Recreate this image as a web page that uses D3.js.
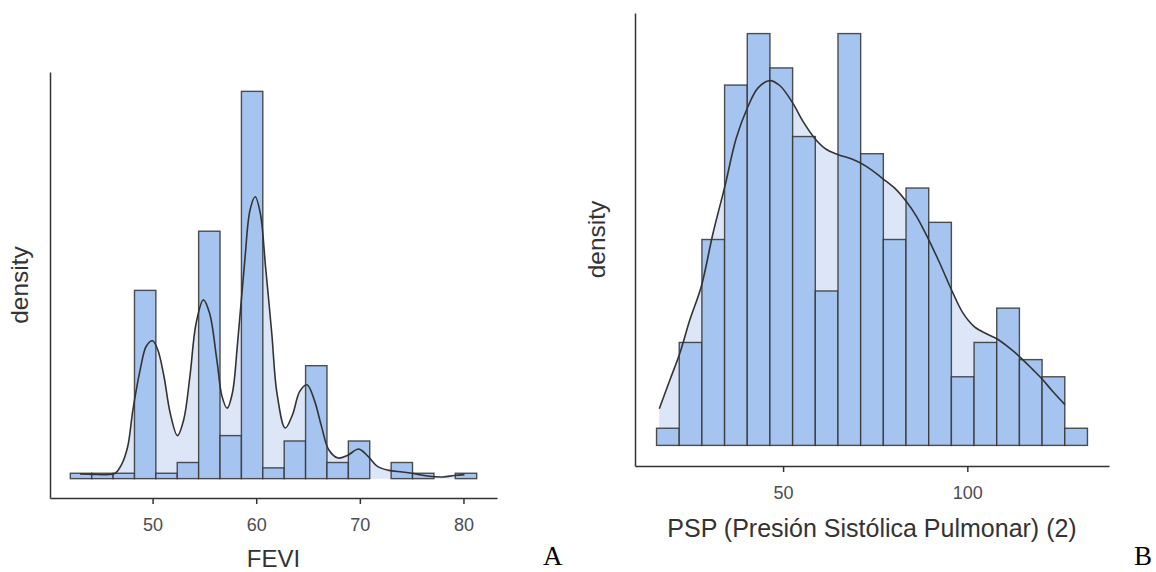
<!DOCTYPE html>
<html>
<head>
<meta charset="utf-8">
<script src="https://cdn.jsdelivr.net/npm/d3@7"></script>
<style>
  body { margin: 0; background: #fff; }
  svg { display: block; font-family: "Liberation Sans", Arial, sans-serif; }
  .axis path, .axis line { stroke: #333; stroke-width: 1.5; }
  .axis text { fill: #4d4d4d; font-size: 18px; }
  .title { fill: #333; font-size: 24.5px; }
  .bars rect { fill: #a6c4f0; stroke: #333; stroke-opacity: 0.85; stroke-width: 1.4; }
  .dens-area { fill: #dce6f7; }
  .dens-line { fill: none; stroke: #333; stroke-width: 1.6; }
  .panel-label { font-family: "Liberation Serif", "Times New Roman", serif; font-size: 27px; fill: #000; }
</style>
</head>
<body>
<script>
// ---- data: FEVI (panel A) ----
var fevi_binStart = 42.06, fevi_binWidth = 2.064;
var fevi_counts = [1, 1, 1, 35, 1, 3, 46, 8, 72, 2, 7, 21, 3, 7, 0, 3, 1, 0, 1];
var fevi_densX = [43.0, 44.3, 45.6, 46.4, 47.0, 47.6, 48.1, 48.8, 49.4, 50.0, 50.5, 51.1, 51.7, 52.4, 53.0, 53.6,
  54.2, 54.9, 55.5, 56.2, 56.7, 57.2, 57.7, 58.2, 58.9, 59.4, 59.9, 60.4, 60.9, 61.5, 62.0, 62.8, 63.5, 64.2,
  64.9, 65.6, 66.3, 67.0, 67.9, 68.8, 69.9, 70.8, 71.7, 72.8, 74.1, 75.4, 76.7, 78.0, 79.1, 80.1];
var fevi_densY = [0.0020, 0.0018, 0.0017, 0.0023, 0.0059, 0.0136, 0.0291, 0.0460, 0.0561, 0.0583, 0.0545, 0.0432,
  0.0277, 0.0182, 0.0249, 0.0432, 0.0657, 0.0756, 0.0699, 0.0502, 0.0348, 0.0298, 0.0362, 0.0573, 0.0924, 0.1135,
  0.1192, 0.1121, 0.0896, 0.0615, 0.0362, 0.0214, 0.0270, 0.0369, 0.0397, 0.0333, 0.0221, 0.0122, 0.0087, 0.0098,
  0.0125, 0.0094, 0.0052, 0.0035, 0.0028, 0.0020, 0.0010, 0.0007, 0.0013, 0.0017];
var fevi_ticks = [50, 60, 70, 80];

// ---- data: PSP (panel B) ----
var psp_binStart = 15.66, psp_binWidth = 6.155;
var psp_counts = [1, 6, 12, 21, 24, 22, 18, 9, 24, 17, 12, 15, 13, 4, 6, 8, 5, 4, 1];
var psp_densX = [16.4, 19.3, 22.0, 24.7, 27.8, 31.0, 34.2, 37.3, 40.3, 43.2, 46.4, 49.1, 52.6, 55.4, 58.9, 61.8,
  65.0, 69.0, 72.6, 77.2, 80.7, 83.4, 86.2, 89.5, 92.5, 95.7, 98.8, 101.8, 105.2, 108.0, 111.5, 114.1, 117.8,
  120.3, 123.2, 126.5];
var psp_densY = [0.00156, 0.00280, 0.00394, 0.00536, 0.00678, 0.00906, 0.01105, 0.01311, 0.01439, 0.01525,
  0.01556, 0.01535, 0.01461, 0.01382, 0.01304, 0.01262, 0.01240, 0.01219, 0.01190, 0.01136, 0.01091, 0.01041,
  0.00977, 0.00878, 0.00778, 0.00664, 0.00565, 0.00508, 0.00476, 0.00455, 0.00415, 0.00380, 0.00323, 0.00283,
  0.00230, 0.00174];
var psp_ticks = [50, 100];

var svg = d3.select("body").append("svg")
    .attr("width", 1156)
    .attr("height", 572);

var drawPanel = function(cfg) {
  var n = d3.sum(cfg.counts);
  var bins = cfg.counts.map(function(c, i) {
    return {x0: cfg.binStart + i * cfg.binWidth, x1: cfg.binStart + (i + 1) * cfg.binWidth,
            d: c / (n * cfg.binWidth)};
  });
  var dens = cfg.densX.map(function(x, i) { return {x: x, y: cfg.densY[i]}; });

  // ggplot-style 5% expansion
  var lo = bins[0].x0, hi = bins[bins.length - 1].x1, span = hi - lo;
  var xScale = d3.scaleLinear()
      .domain([lo - 0.05 * span, hi + 0.05 * span])
      .range([cfg.left, cfg.right]);
  var ymax = Math.max(d3.max(bins, function(b) { return b.d; }), d3.max(cfg.densY));
  var yScale = d3.scaleLinear()
      .domain([-0.05 * ymax, 1.05 * ymax])
      .range([cfg.bottom, cfg.top]);

  var g = svg.append("g");

  // density fill behind bars
  var area = d3.area()
      .curve(d3.curveCatmullRom)
      .x(function(d) { return xScale(d.x); })
      .y0(yScale(0))
      .y1(function(d) { return yScale(d.y); });
  g.append("path")
      .datum(dens)
      .attr("class", "dens-area")
      .attr("d", area);

  // bars (empty bins skipped)
  g.append("g").attr("class", "bars")
    .selectAll("rect")
    .data(bins.filter(function(b) { return b.d > 0; }))
    .enter()
    .append("rect")
      .attr("x", function(b) { return xScale(b.x0); })
      .attr("width", function(b) { return xScale(b.x1) - xScale(b.x0); })
      .attr("y", function(b) { return yScale(b.d); })
      .attr("height", function(b) { return yScale(0) - yScale(b.d); });

  // density line on top
  var line = d3.line()
      .curve(d3.curveCatmullRom)
      .x(function(d) { return xScale(d.x); })
      .y(function(d) { return yScale(d.y); });
  g.append("path")
      .datum(dens)
      .attr("class", "dens-line")
      .attr("d", line);

  // axes
  g.append("g")
      .attr("class", "axis")
      .attr("transform", "translate(0," + cfg.bottom + ")")
      .call(d3.axisBottom(xScale).tickValues(cfg.ticks).tickSize(6).tickSizeOuter(0).tickPadding(14));
  g.append("g")
      .attr("class", "axis")
      .attr("transform", "translate(" + cfg.left + ",0)")
      .call(d3.axisLeft(yScale).tickValues([]).tickSizeOuter(0));

  // titles
  g.append("text")
      .attr("class", "title")
      .attr("text-anchor", "middle")
      .attr("x", (cfg.left + cfg.right) / 2)
      .attr("y", cfg.bottom + cfg.xTitleOffset)
      .style("font-size", cfg.xTitleSize)
      .text(cfg.xTitle);
  g.append("text")
      .attr("class", "title")
      .attr("text-anchor", "middle")
      .attr("transform", "translate(" + (cfg.left - cfg.yTitleOffset) + "," + (cfg.top + cfg.bottom) / 2 + ") rotate(-90)")
      .text("density");
};

drawPanel({left: 50, right: 497, top: 72, bottom: 498,
  binStart: fevi_binStart, binWidth: fevi_binWidth, counts: fevi_counts,
  densX: fevi_densX, densY: fevi_densY, ticks: fevi_ticks,
  xTitle: "FEVI", xTitleOffset: 69, xTitleSize: "24px", yTitleOffset: 22});

drawPanel({left: 635, right: 1109, top: 13, bottom: 466,
  binStart: psp_binStart, binWidth: psp_binWidth, counts: psp_counts,
  densX: psp_densX, densY: psp_densY, ticks: psp_ticks,
  xTitle: "PSP (Presión Sistólica Pulmonar) (2)", xTitleOffset: 71, xTitleSize: "25px", yTitleOffset: 30});

// panel letters
svg.append("text").attr("class", "panel-label").attr("x", 543).attr("y", 565).text("A");
svg.append("text").attr("class", "panel-label").attr("x", 1134).attr("y", 565).text("B");
</script>
</body>
</html>
